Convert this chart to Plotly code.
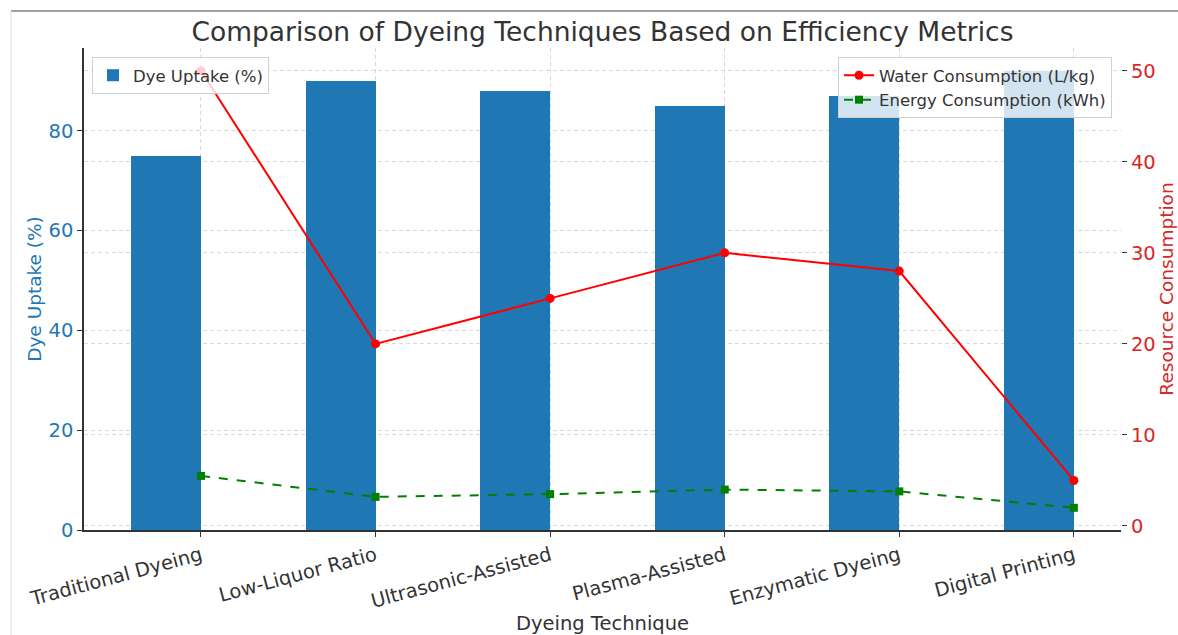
import plotly.graph_objects as go

techniques = ["Traditional Dyeing", "Low-Liquor Ratio", "Ultrasonic-Assisted",
              "Plasma-Assisted", "Enzymatic Dyeing", "Digital Printing"]
dye_uptake = [75, 90, 88, 85, 87, 92]
water_consumption = [50, 20, 25, 30, 28, 5]
energy_consumption = [5.5, 3.2, 3.5, 4.0, 3.8, 2.0]

FONT = "DejaVu Sans"
DARK = "#333333"
BLUE = "#1f77b4"
RED = "#d62728"
GRID = "#d9d9d9"

fig = go.Figure()
fig.add_trace(go.Bar(
    x=techniques, y=dye_uptake, name="Dye Uptake (%)",
    marker=dict(color=BLUE, line=dict(width=0)),
    offset=-0.4, width=0.4, legend="legend", yaxis="y", showlegend=True,
))
fig.add_trace(go.Scatter(
    x=techniques, y=water_consumption, name="Water Consumption (L/kg)",
    mode="lines+markers", line=dict(color="#ff0000", width=2),
    marker=dict(symbol="circle", size=9, color="#ff0000"),
    yaxis="y2", legend="legend2", showlegend=True,
))
fig.add_trace(go.Scatter(
    x=techniques, y=energy_consumption, name="Energy Consumption (kWh)",
    mode="lines+markers", line=dict(color="#008000", width=2, dash="dash"),
    marker=dict(symbol="square", size=8, color="#008000"),
    yaxis="y2", legend="legend2", showlegend=True,
))

L, R, T, B = 84, 1121, 48, 530
W, H = 1178, 635
pw, ph = R - L, B - T

def px(x):
    return (x - L) / pw

def py(y):
    return (B - y) / ph

grid = dict(showgrid=True, gridcolor=GRID, griddash="4px,3px", gridwidth=0.8)

fig.update_layout(
    width=W, height=H,
    margin=dict(l=L, r=W - R, t=T, b=H - B, autoexpand=False),
    paper_bgcolor="white", plot_bgcolor="white",
    font=dict(family=FONT, color=DARK, size=19),
    showlegend=True,
    title=dict(text="Comparison of Dyeing Techniques Based on Efficiency Metrics",
               x=0.5, xref="paper", xanchor="center", y=1 - 32 / H, yanchor="middle",
               font=dict(size=26.5, color=DARK, family=FONT)),
    bargap=0,
    xaxis=dict(
        title=dict(text="Dyeing Technique", font=dict(size=19.5, color=DARK), standoff=6),
        type="category", range=[-0.67, 5.27], automargin=False,
        tickangle=-15, tickfont=dict(size=19.5, color=DARK),
        showline=True, linecolor=DARK, linewidth=1.6,
        ticks="outside", ticklen=5, tickcolor=DARK, tickwidth=1.2,
        zeroline=False, **grid,
    ),
    yaxis=dict(
        title=dict(text="Dye Uptake (%)", font=dict(size=18.5, color=BLUE), standoff=2),
        range=[0, 96.6], dtick=20, tickfont=dict(size=19.5, color=BLUE), automargin=False,
        showline=True, linecolor=DARK, linewidth=1.6,
        ticks="outside", ticklen=5, tickcolor=DARK, tickwidth=1.2,
        zeroline=False, **grid,
    ),
    yaxis2=dict(
        title=dict(text="Resource Consumption", font=dict(size=18.5, color=RED), standoff=4),
        overlaying="y", side="right", range=[-0.44, 52.5], dtick=10, automargin=False,
        tickfont=dict(size=19.5, color=RED),
        showline=False, ticks="outside", ticklen=5, tickcolor=DARK, tickwidth=1.2,
        zeroline=False, **grid,
    ),
    legend=dict(
        x=px(92), y=py(57), xanchor="left", yanchor="top",
        bgcolor="rgba(255,255,255,0.8)", bordercolor="#d0d0d0", borderwidth=1,
        font=dict(size=16.5, color=DARK),
    ),
    legend2=dict(
        x=px(1112), y=py(57), xanchor="right", yanchor="top",
        bgcolor="rgba(255,255,255,0.8)", bordercolor="#d0d0d0", borderwidth=1,
        font=dict(size=16.5, color=DARK), tracegroupgap=0,
    ),
    shapes=[
        dict(type="line", xref="paper", yref="paper", x0=px(11), x1=px(W), y0=py(11), y1=py(11),
             line=dict(color="#808080", width=1.5)),
        dict(type="line", xref="paper", yref="paper", x0=px(11), x1=px(11), y0=py(11), y1=py(H),
             line=dict(color="#dddddd", width=1)),
    ],
)

fig.write_html("out.html", config={"displayModeBar": False},
               post_script="document.body.style.margin='0px';document.body.style.overflow='hidden';")
